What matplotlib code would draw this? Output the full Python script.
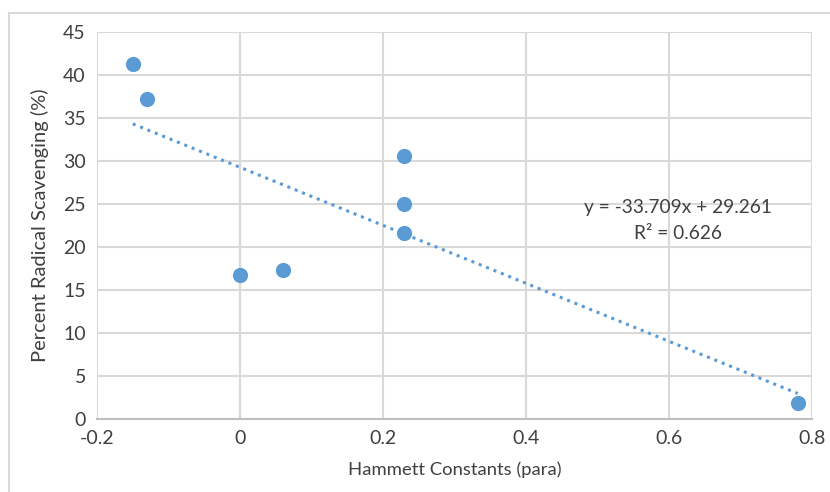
import numpy as np
import matplotlib.pyplot as plt
from matplotlib.lines import Line2D

# Hammett para constants vs radical scavenging
hammett = [-0.15, -0.13, 0.0, 0.06, 0.23, 0.23, 0.23, 0.78]
scavenging = [41.3, 37.2, 16.7, 17.3, 30.6, 25.0, 21.6, 1.9]
slope = -33.709
intercept = 29.261
r_squared = 0.626
x_ticks = [-0.2, 0, 0.2, 0.4, 0.6, 0.8]
x_tick_labels = ['-0.2', '0', '0.2', '0.4', '0.6', '0.8']
y_ticks = [0, 5, 10, 15, 20, 25, 30, 35, 40, 45]

plt.rcParams['font.family'] = ['Lato', 'DejaVu Sans']
blue = '#5B9BD5'
text_col = '#404040'

fig = plt.figure(figsize=(8.3, 4.92), dpi=100)
ax = fig.add_axes([97 / 830, 1 - 419 / 492, (812 - 97) / 830, (419 - 32) / 492])

ax.set_xlim(-0.2, 0.8)
ax.set_ylim(0, 45)
ax.set_xticks(x_ticks)
ax.set_xticklabels(x_tick_labels)
ax.set_yticks(y_ticks)
ax.grid(True, color='#D9D9D9', linewidth=1.5, zorder=0)
ax.axvline(0, color='#A6A6A6', linewidth=1.5, zorder=1)
for side in ['left', 'right', 'top']:
    ax.spines[side].set_visible(False)
ax.spines['bottom'].set_color('#BFBFBF')
ax.spines['bottom'].set_linewidth(1.5)
ax.tick_params(length=0, labelsize=14, colors=text_col, pad=8)

# trendline over data range
xs = np.array([min(hammett), max(hammett)])
ax.plot(xs, slope * xs + intercept, linestyle=(0, (1, 1.6)), color=blue,
        linewidth=2.2, zorder=2)
ax.scatter(hammett, scavenging, s=120, color=blue, zorder=3, linewidths=0)

ax.text(0.613, 24.6, 'y = %.3fx + %.3f' % (slope, intercept), ha='center', va='center',
        fontsize=13.8, color=text_col)
ax.text(0.613, 21.6, 'R² = %.3f' % r_squared, ha='center', va='center',
        fontsize=13.8, color=text_col)

ax.set_xlabel('Hammett Constants (para)', fontsize=13.3, color=text_col, labelpad=10)
ax.set_ylabel('Percent Radical Scavenging (%)', fontsize=14.5, color=text_col, labelpad=10)

# chart area border (left and top visible)
fig.add_artist(Line2D([9 / 830, 9 / 830], [0, 1 - 13 / 492], transform=fig.transFigure,
                      color='#D9D9D9', linewidth=1.5))
fig.add_artist(Line2D([9 / 830, 1], [1 - 13 / 492, 1 - 13 / 492], transform=fig.transFigure,
                      color='#D9D9D9', linewidth=1.5))

fig.savefig('out.png', dpi=100)
